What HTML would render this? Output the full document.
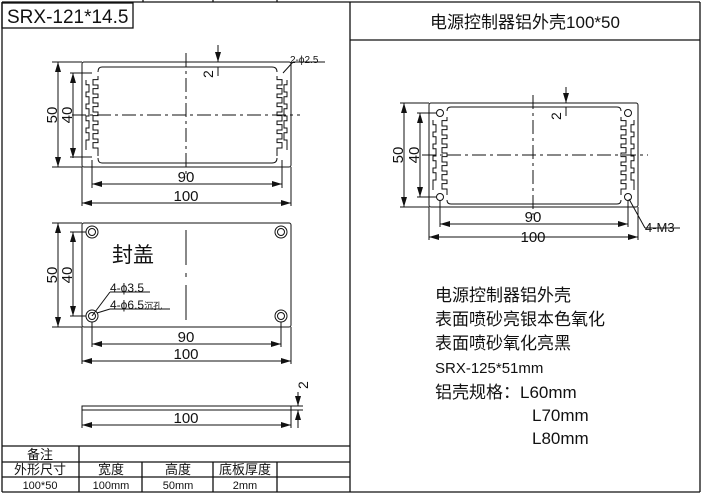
<!DOCTYPE html>
<html><head><meta charset="utf-8"><style>
body{margin:0;background:#fff}
svg{display:block}
text{font-family:"Liberation Sans","Noto Sans CJK SC",sans-serif;fill:#111}
</style></head><body>
<svg id="s" width="703" height="494" viewBox="0 0 703 494" xmlns="http://www.w3.org/2000/svg">
<defs>
<marker id="a" markerWidth="10" markerHeight="6" refX="10" refY="3" orient="auto-start-reverse" markerUnits="userSpaceOnUse"><path d="M0,0L10,3L0,6z" fill="#111"/></marker>
</defs>
<g stroke="#111" fill="none" stroke-width="1.3">
<line x1="2" y1="2" x2="700" y2="2"/>
<line x1="2" y1="2" x2="2" y2="492"/>
<line x1="700" y1="2" x2="700" y2="492"/>
<line x1="2" y1="492" x2="700" y2="492"/>
<line x1="350" y1="2" x2="350" y2="492"/>
<line x1="350" y1="40" x2="700" y2="40"/>
<line x1="143" y1="0" x2="143" y2="2"/><line x1="213" y1="0" x2="213" y2="2"/><line x1="277" y1="0" x2="277" y2="2"/>
<rect x="2" y="3" width="131" height="25"/>
<line x1="2" y1="446" x2="350" y2="446"/>
<line x1="2" y1="462" x2="350" y2="462"/>
<line x1="2" y1="477" x2="350" y2="477"/>
<line x1="79" y1="446" x2="79" y2="492"/>
<line x1="142" y1="462" x2="142" y2="492"/>
<line x1="213" y1="462" x2="213" y2="492"/>
<line x1="277" y1="462" x2="277" y2="492"/>
</g>
<g stroke="#111" fill="none" stroke-width="1" id="draw">
<rect x="82" y="62" width="209" height="105" rx="2"/>
<path d="M102,67H272Q277,67 277,72M98,72Q98,67 102,67M102,163H272Q277,163 277,158M98,158Q98,163 102,163"/>
<line x1="186" y1="53" x2="186" y2="178" stroke-dasharray="14,4,3,4"/>
<line x1="72" y1="115" x2="300" y2="115" stroke-dasharray="14,4,3,4"/>
<line x1="58" y1="62" x2="58" y2="167" marker-start="url(#a)" marker-end="url(#a)"/>
<line x1="52" y1="62" x2="82" y2="62"/><line x1="52" y1="167" x2="82" y2="167"/>
<line x1="73" y1="73" x2="73" y2="158" marker-start="url(#a)" marker-end="url(#a)"/>
<line x1="70" y1="73" x2="92" y2="73"/><line x1="70" y1="157" x2="92" y2="157"/>
<line x1="92" y1="160" x2="92" y2="188"/><line x1="282" y1="160" x2="282" y2="188"/>
<line x1="92" y1="184" x2="282" y2="184" marker-start="url(#a)" marker-end="url(#a)"/>
<line x1="82" y1="167" x2="82" y2="206"/><line x1="291" y1="167" x2="291" y2="206"/>
<line x1="82" y1="203" x2="291" y2="203" marker-start="url(#a)" marker-end="url(#a)"/>
<line x1="218" y1="45" x2="218" y2="62" marker-end="url(#a)"/><line x1="218" y1="67" x2="218" y2="76"/>
<line x1="283" y1="73" x2="293" y2="62"/><line x1="293" y1="62" x2="325" y2="62"/>
<rect x="82" y="223" width="209" height="104" rx="2"/>
<circle cx="92" cy="232" r="6"/><circle cx="92" cy="232" r="3.5"/>
<circle cx="281" cy="232" r="6"/><circle cx="281" cy="232" r="3.5"/>
<circle cx="92" cy="316" r="6"/><circle cx="92" cy="316" r="3.5"/>
<circle cx="281" cy="316" r="6"/><circle cx="281" cy="316" r="3.5"/>
<line x1="186" y1="230" x2="186" y2="322" stroke-dasharray="35,8,4,8"/>
<line x1="58" y1="223" x2="58" y2="327" marker-start="url(#a)" marker-end="url(#a)"/>
<line x1="52" y1="223" x2="82" y2="223"/><line x1="52" y1="327" x2="82" y2="327"/>
<line x1="73" y1="232" x2="73" y2="316" marker-start="url(#a)" marker-end="url(#a)"/>
<line x1="70" y1="232" x2="86" y2="232"/><line x1="70" y1="316" x2="86" y2="316"/>
<line x1="92" y1="322" x2="92" y2="347"/><line x1="281" y1="322" x2="281" y2="347"/>
<line x1="92" y1="344" x2="281" y2="344" marker-start="url(#a)" marker-end="url(#a)"/>
<line x1="82" y1="327" x2="82" y2="364"/><line x1="291" y1="327" x2="291" y2="364"/>
<line x1="82" y1="361" x2="291" y2="361" marker-start="url(#a)" marker-end="url(#a)"/>
<line x1="92" y1="316" x2="110" y2="292"/><line x1="110" y1="292" x2="150" y2="292"/>
<line x1="97" y1="313" x2="110" y2="309"/><line x1="110" y1="309" x2="170" y2="309"/>
<rect x="82" y="406" width="209" height="4"/>
<line x1="82" y1="410" x2="82" y2="428"/><line x1="291" y1="410" x2="291" y2="428"/>
<line x1="82" y1="425" x2="291" y2="425" marker-start="url(#a)" marker-end="url(#a)"/>
<line x1="291" y1="406" x2="303" y2="406"/><line x1="291" y1="410" x2="303" y2="410"/>
<line x1="298" y1="392" x2="298" y2="406" marker-end="url(#a)"/><line x1="298" y1="428" x2="298" y2="410" marker-end="url(#a)"/>
<rect x="429" y="103" width="209" height="104" rx="2"/>
<path d="M451,107H617Q621,107 621,111M447,111Q447,107 451,107M451,204H617Q621,204 621,200M447,200Q447,204 451,204"/>
<circle cx="440" cy="113" r="3.5"/><circle cx="628" cy="113" r="3.5"/>
<circle cx="440" cy="197" r="3.5"/><circle cx="628" cy="197" r="3.5"/>
<line x1="533" y1="95" x2="533" y2="215" stroke-dasharray="14,4,3,4"/>
<line x1="422" y1="155" x2="648" y2="155" stroke-dasharray="14,4,3,4"/>
<line x1="404" y1="103" x2="404" y2="207" marker-start="url(#a)" marker-end="url(#a)"/>
<line x1="400" y1="103" x2="429" y2="103"/><line x1="400" y1="207" x2="429" y2="207"/>
<line x1="420" y1="113" x2="420" y2="197" marker-start="url(#a)" marker-end="url(#a)"/>
<line x1="417" y1="113" x2="436" y2="113"/><line x1="417" y1="197" x2="436" y2="197"/>
<line x1="440" y1="200" x2="440" y2="227"/><line x1="628" y1="200" x2="628" y2="227"/>
<line x1="440" y1="224" x2="628" y2="224" marker-start="url(#a)" marker-end="url(#a)"/>
<line x1="429" y1="207" x2="429" y2="240"/><line x1="638" y1="207" x2="638" y2="240"/>
<line x1="429" y1="237" x2="638" y2="237" marker-start="url(#a)" marker-end="url(#a)"/>
<line x1="566" y1="87" x2="566" y2="103" marker-end="url(#a)"/><line x1="566" y1="107" x2="566" y2="116"/>
<line x1="629" y1="199" x2="645" y2="228"/><line x1="645" y1="228" x2="680" y2="228"/>
</g>
<g font-size="15">
<text x="7" y="23" font-size="19">SRX-121*14.5</text>
<text x="186" y="182" text-anchor="middle">90</text>
<text x="186" y="201" text-anchor="middle">100</text>
<text transform="translate(57,115) rotate(-90)" text-anchor="middle">50</text>
<text transform="translate(72,115) rotate(-90)" text-anchor="middle">40</text>
<text transform="translate(213,78) rotate(-90)" font-size="14">2</text>
<text x="290" y="63" font-size="10">2-ϕ2.5</text>
<text x="112" y="262" font-size="21" font-family="Noto Sans CJK SC,sans-serif">封盖</text>
<text transform="translate(57,275) rotate(-90)" text-anchor="middle">50</text>
<text transform="translate(72,275) rotate(-90)" text-anchor="middle">40</text>
<text x="110" y="292" font-size="12">4-ϕ3.5</text>
<text x="110" y="309" font-size="12">4-ϕ6.5<tspan font-size="9">沉孔</tspan></text>
<text x="186" y="342" text-anchor="middle">90</text>
<text x="186" y="359" text-anchor="middle">100</text>
<text x="186" y="423" text-anchor="middle">100</text>
<text transform="translate(308,389) rotate(-90)" font-size="14">2</text>
<text x="525" y="28" text-anchor="middle" font-size="17">电源控制器铝外壳100*50</text>
<text transform="translate(403,155) rotate(-90)" text-anchor="middle">50</text>
<text transform="translate(419,155) rotate(-90)" text-anchor="middle">40</text>
<text transform="translate(561,120) rotate(-90)" font-size="14">2</text>
<text x="533" y="222" text-anchor="middle">90</text>
<text x="533" y="242" text-anchor="middle">100</text>
<text x="645" y="232" font-size="13">4-M3</text>
<g font-size="17">
<text x="435" y="301">电源控制器铝外壳</text>
<text x="435" y="325">表面喷砂亮银本色氧化</text>
<text x="435" y="349">表面喷砂氧化亮黑</text>
<text x="435" y="373" font-size="15">SRX-125*51mm</text>
<text x="435" y="398">铝壳规格：L60mm</text>
<text x="532" y="421">L70mm</text>
<text x="532" y="444">L80mm</text>
</g>
<g font-size="13" text-anchor="middle">
<text x="40" y="459">备注</text>
<text x="40" y="474">外形尺寸</text>
<text x="111" y="474">宽度</text>
<text x="178" y="474">高度</text>
<text x="245" y="474">底板厚度</text>
<text x="40" y="489" font-size="11">100*50</text>
<text x="111" y="489" font-size="11">100mm</text>
<text x="178" y="489" font-size="11">50mm</text>
<text x="245" y="489" font-size="11">2mm</text>
</g>
</g>
</svg>
<script>
var g=document.getElementById('draw');
function fins(xo,y1,y2,dir,depth,p){
 var d='M'+xo+','+y1,y=y1;
 while(y+p<=y2){d+='V'+(y+p*0.4)+'H'+(xo+dir*depth)+'V'+(y+p)+'H'+xo;y+=p;}
 d+='V'+y2;
 var e=document.createElementNS('http://www.w3.org/2000/svg','path');e.setAttribute('d',d);g.appendChild(e);
}
fins(98,76,156,-1,5,9);fins(277,76,156,1,5,9);
fins(86,80,150,1,3,12);fins(287,80,150,-1,3,12);
fins(447,117,195,-1,5,9);fins(621,117,195,1,5,9);
fins(433,120,190,1,3,12);fins(634,120,190,-1,3,12);
</script>
</body></html>
